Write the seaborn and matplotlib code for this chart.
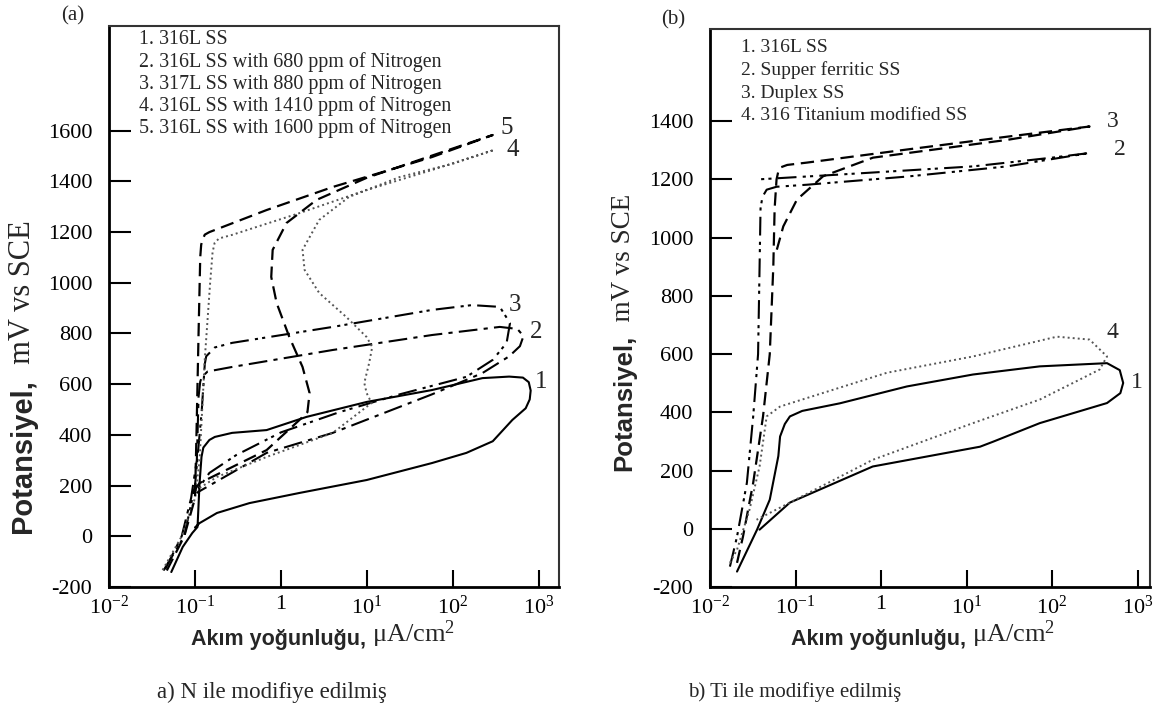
import matplotlib
matplotlib.use("Agg")
import matplotlib.pyplot as plt
from matplotlib.ticker import NullLocator, FixedLocator, FixedFormatter
import seaborn as sns

# ---------------- data (panel a: N modified) ----------------
a_legend = ["1. 316L SS",
            "2. 316L SS with 680 ppm of Nitrogen",
            "3. 317L SS with 880 ppm of Nitrogen",
            "4. 316L SS with 1410 ppm of Nitrogen",
            "5. 316L SS with 1600 ppm of Nitrogen"]

a1_x = [0.053, 0.072, 0.093, 0.107, 0.113, 0.119, 0.125, 0.147, 0.17, 0.27, 0.68, 1.98, 9.9, 57, 220, 450, 650, 760, 800, 780, 700, 490, 290, 143, 57, 9.9, 1.64, 0.43, 0.18, 0.113, 0.10]
a1_y = [-141, -42, 13, 37, 210, 313, 350, 380, 392, 408, 419, 471, 530, 577, 624, 630, 626, 608, 575, 540, 505, 459, 375, 329, 289, 222, 171, 131, 92, 52, 35]

a2_x = [0.045, 0.07, 0.09, 0.105, 0.11, 0.115, 0.12, 0.14, 0.27, 4, 57, 350, 560, 660, 600, 450, 220, 57, 4, 0.68, 0.104]
a2_y = [-130, 0, 150, 300, 550, 610, 628, 650, 668, 735, 794, 826, 818, 790, 750, 710, 644, 560, 408, 329, 171]

a3_x = [0.043, 0.075, 0.1, 0.12, 0.13, 0.135, 0.147, 0.17, 0.27, 4, 57, 166, 350, 460, 420, 290, 143, 24, 4.8, 1, 0.3, 0.147, 0.1]
a3_y = [-135, 0, 200, 500, 680, 710, 723, 745, 763, 826, 893, 912, 905, 841, 763, 696, 629, 560, 490, 410, 320, 250, 170]

a4_x = [0.042, 0.07, 0.1, 0.113, 0.13, 0.15, 0.16, 0.169, 0.19, 0.27, 1.64, 9.9, 57, 300, 100, 23.9, 6.2, 2.78, 1.78, 1.88, 2.78, 5.75, 9.9, 11.5, 10.6, 9.3, 9.9, 11.3, 4, 0.68, 0.18, 0.104]
a4_y = [-133, 0, 150, 300, 700, 1000, 1120, 1157, 1175, 1189, 1275, 1366, 1445, 1524, 1470, 1417, 1339, 1248, 1130, 1051, 960, 865, 786, 747, 684, 605, 565, 526, 408, 313, 234, 183]

a5_x = [0.047, 0.075, 0.1, 0.104, 0.11, 0.115, 0.118, 0.122, 0.13, 0.147, 0.68, 4, 23.9, 57, 290, 100, 9.9, 2.59, 1.16, 0.80, 0.77, 0.89, 1.25, 1.78, 2.15, 2.03, 1.64, 0.68, 0.27, 0.113, 0.093]
a5_y = [-135, 0, 150, 400, 800, 1100, 1150, 1169, 1190, 1200, 1287, 1378, 1457, 1496, 1583, 1530, 1414, 1327, 1236, 1130, 1023, 920, 786, 668, 565, 490, 459, 340, 273, 210, 171]

# ---------------- data (panel b: Ti modified) ----------------
b_legend = ["1. 316L SS",
            "2. Supper ferritic SS",
            "3. Duplex SS",
            "4. 316 Titanium modified SS"]

b1_x = [0.0207, 0.0355, 0.05, 0.063, 0.066, 0.075, 0.086, 0.12, 0.33, 2.01, 11.9, 72, 440, 620, 680, 630, 440, 72, 20.4, 14.4, 0.8, 0.086, 0.038]
b1_y = [-147, -3, 100, 250, 317, 360, 386, 405, 431, 489, 530, 558, 569, 545, 501, 466, 432, 363, 299, 282, 214, 90, -3]

b2_x = [0.0171, 0.0207, 0.027, 0.032, 0.0365, 0.038, 0.039, 0.041, 0.046, 0.06, 0.136, 2.01, 29.8, 275, 100, 11.9, 0.33, 0.035]
b2_y = [-130, -27, 158, 386, 600, 900, 1100, 1140, 1165, 1175, 1182, 1210, 1245, 1291, 1275, 1245, 1217, 1200]

b3_x = [0.0207, 0.0243, 0.032, 0.0417, 0.05, 0.055, 0.057, 0.06, 0.063, 0.066, 0.08, 0.136, 2.01, 29.8, 275, 29.8, 0.805, 0.21, 0.104, 0.072, 0.0605]
b3_y = [-117, -27, 158, 386, 600, 900, 1100, 1200, 1228, 1241, 1250, 1258, 1303, 1347, 1382, 1336, 1275, 1211, 1131, 1039, 959]

b4_x = [0.0171, 0.0207, 0.029, 0.038, 0.046, 0.066, 1.17, 11.9, 114, 275, 440, 360, 176, 72, 11.9, 0.8, 0.086, 0.035]
b4_y = [-117, -72, 66, 214, 386, 420, 536, 592, 660, 650, 592, 547, 501, 444, 363, 237, 90, 31]

x_ticks = [0.01, 0.1, 1, 10, 100, 1000]
x_ticklabels = ["$10^{-2}$", "$10^{-1}$", "1", "$10^{1}$", "$10^{2}$", "$10^{3}$"]
a_yticks = [-200, 0, 200, 400, 600, 800, 1000, 1200, 1400, 1600]
b_yticks = [-200, 0, 200, 400, 600, 800, 1000, 1200, 1400]

# ---------------- style ----------------
sns.set_theme(style="white")
plt.rcParams["font.family"] = ["Liberation Serif", "DejaVu Serif"]
plt.rcParams["mathtext.fontset"] = "custom"
plt.rcParams["mathtext.rm"] = "Liberation Serif"
plt.rcParams["mathtext.it"] = "Liberation Serif:italic"
plt.rcParams["mathtext.bf"] = "Liberation Serif:bold"

W, H = 1163, 716
fig = plt.figure(figsize=(W / 100, H / 100), dpi=100)
fig.patch.set_facecolor("white")


def px_axes(l, r, t, b):
    return fig.add_axes([l / W, 1 - b / H, (r - l) / W, (b - t) / H])


axA = px_axes(109, 559, 26, 587)
axB = px_axes(710, 1150, 29, 587)

STY = {
    "solid": dict(linestyle="-", lw=1.5, color="black"),
    "dashdot": dict(linestyle=(0, (9, 3, 2, 3)), lw=1.5, color="black"),
    "dashdotdot": dict(linestyle=(0, (9, 3, 1.5, 2, 1.5, 3)), lw=1.5, color="black"),
    "dotted": dict(linestyle=(0, (1, 1.6)), lw=1.4, color="#555555"),
    "dashed": dict(linestyle=(0, (6, 3)), lw=1.6, color="black"),
}

for ax in (axA, axB):
    ax.set_xscale("log")

curvesA = [(a1_x, a1_y, "solid"), (a2_x, a2_y, "dashdot"), (a3_x, a3_y, "dashdotdot"),
           (a4_x, a4_y, "dotted"), (a5_x, a5_y, "dashed")]
curvesB = [(b1_x, b1_y, "solid"), (b2_x, b2_y, "dashdotdot"), (b3_x, b3_y, "dashed"),
           (b4_x, b4_y, "dotted")]

for ax, curves in ((axA, curvesA), (axB, curvesB)):
    for xs, ys, st in curves:
        sns.lineplot(x=xs, y=ys, sort=False, estimator=None, ax=ax, **STY[st])

axA.set_xlim(0.01, 1708)
axA.set_ylim(-200, 2013)
axB.set_xlim(0.01, 1400)
axB.set_ylim(-200, 1717)

for ax, yt in ((axA, a_yticks), (axB, b_yticks)):
    ax.xaxis.set_major_locator(FixedLocator(x_ticks))
    ax.xaxis.set_major_formatter(FixedFormatter(x_ticklabels))
    ax.xaxis.set_minor_locator(NullLocator())
    ax.set_yticks(yt)
    ax.set_yticklabels([str(v) for v in yt])
    ax.tick_params(axis="y", direction="in", length=16, width=1.5, labelsize=16, pad=12,
                   left=True, colors="black")
    ax.tick_params(axis="x", direction="in", length=12, width=1.5, labelsize=16, pad=6,
                   bottom=True, colors="black")
    for s in ("left", "bottom"):
        ax.spines[s].set_linewidth(2.0)
        ax.spines[s].set_color("black")
    for s in ("top", "right"):
        ax.spines[s].set_linewidth(1.5)
        ax.spines[s].set_color("#333333")
    ax.set_xlabel("")
    ax.set_ylabel("")
    ax.grid(False)
    ax.set_facecolor("white")

# legends (text lists)
for i, t in enumerate(a_legend):
    axA.text(139 / W, 1 - (40 + 22.1 * i) / H, t, transform=fig.transFigure,
             fontsize=14.4, va="center", ha="left")
for i, t in enumerate(b_legend):
    axB.text(741 / W, 1 - (48 + 22.5 * i) / H, t, transform=fig.transFigure,
             fontsize=14, va="center", ha="left")

# curve number labels
for t, (x, y) in zip(["1", "2", "3", "4", "5"],
                     [(1060, 610), (930, 806), (519, 912), (492, 1524), (419, 1611)]):
    axA.text(x, y, t, fontsize=18, ha="center", va="center")
for t, (x, y) in zip(["1", "2", "3", "4"],
                     [(990, 502), (624, 1302), (516, 1399), (516, 674)]):
    axB.text(x, y, t, fontsize=17, ha="center", va="center")

# panel tags
fig.text(73 / W, 1 - 16 / H, "(a)", fontsize=15, ha="center", va="center")
fig.text(673 / W, 1 - 20 / H, "(b)", fontsize=15, ha="center", va="center")

# x labels (bold sans part + serif unit part)
for ax, xsplit in ((axA, 372), (axB, 972)):
    t1 = fig.text(xsplit / W, 1 - 650 / H, "Akım yoğunluğu, ", family="Liberation Sans",
                  weight="bold", fontsize=15.5, ha="right", va="bottom")
    ax.annotate("μA/cm$^2$", xy=(1, 0), xycoords=t1, fontsize=19, ha="left", va="bottom",
                annotation_clip=False)

# y labels
for ax, x, yb, s1, s2 in ((axA, 23, 533, 21, 22), (axB, 624, 471, 18.5, 19.5)):
    t1 = fig.text(x / W, 1 - yb / H, "Potansiyel,", family="Liberation Sans",
                  weight="bold", fontsize=s1, rotation=90, ha="center", va="bottom")
    ax.annotate("  mV vs SCE", xy=(0.5, 1), xycoords=t1, fontsize=s2, rotation=90,
                ha="center", va="bottom", annotation_clip=False)

# captions
fig.text(272 / W, 1 - 692 / H, "a) N ile modifiye edilmiş", fontsize=16.5, ha="center", va="center")
fig.text(795 / W, 1 - 692 / H, "b) Ti ile modifiye edilmiş", fontsize=15, ha="center", va="center")

fig.savefig("out.png", dpi=100, facecolor="white")
